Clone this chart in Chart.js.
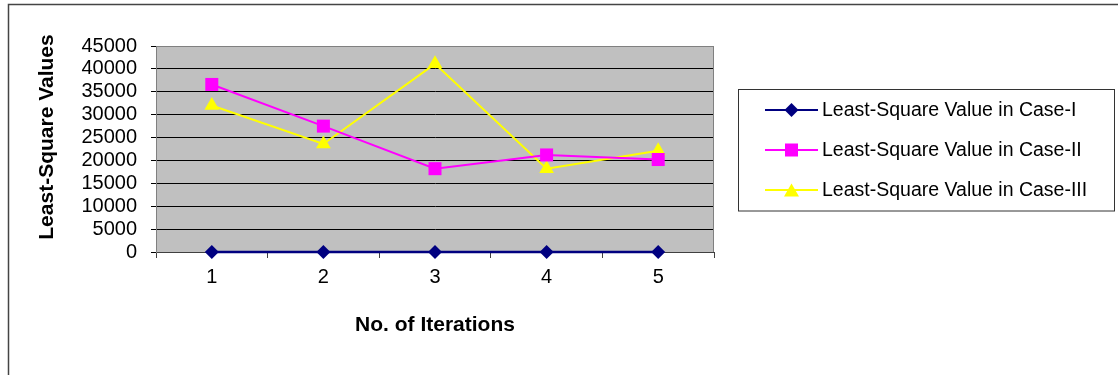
<!DOCTYPE html>
<html>
<head>
<meta charset="utf-8">
<script src="https://cdn.jsdelivr.net/npm/chart.js@4/dist/chart.umd.min.js"></script>
<style>
  html, body { margin: 0; padding: 0; background: #fff; }
  #wrap { width: 1118px; height: 375px; position: relative; }
</style>
</head>
<body>
<div id="wrap"><canvas id="c" width="1118" height="375"></canvas></div>
<script>
const categories = ['1', '2', '3', '4', '5'];
const seriesNames = ['Least-Square Value in Case-I', 'Least-Square Value in Case-II', 'Least-Square Value in Case-III'];
const caseI = [0, 0, 0, 0, 0];
const caseII = [36600, 27500, 18200, 21200, 20200];
const caseIII = [32000, 23600, 41100, 18200, 22100];
const yTickLabels = ['0', '5000', '10000', '15000', '20000', '25000', '30000', '35000', '40000', '45000'];
const xTitle = 'No. of Iterations';
const yTitle = 'Least-Square Values';

const FONT = '"Liberation Sans", Arial, sans-serif';

function drawMarker(ctx, style, x, y, color) {
  ctx.save();
  ctx.fillStyle = color;
  ctx.beginPath();
  if (style === 'rectRot') {
    const r = 7;
    ctx.moveTo(x - r, y); ctx.lineTo(x, y - r); ctx.lineTo(x + r, y); ctx.lineTo(x, y + r);
  } else if (style === 'rect') {
    const s = 6.5;
    ctx.rect(x - s, y - s, 2 * s, 2 * s);
  } else {
    const h = 6.5;
    ctx.moveTo(x, y - h); ctx.lineTo(x + 7.5, y + h); ctx.lineTo(x - 7.5, y + h);
  }
  ctx.closePath();
  ctx.fill();
  ctx.restore();
}

const decorPlugin = {
  id: 'decor',
  beforeDraw(chart) {
    const ctx = chart.ctx;
    const a = chart.chartArea;
    ctx.save();
    ctx.fillStyle = '#ffffff';
    ctx.fillRect(0, 0, chart.width, chart.height);
    ctx.strokeStyle = '#444444';
    ctx.lineWidth = 1.5;
    ctx.beginPath();
    ctx.moveTo(8.5, 375);
    ctx.lineTo(8.5, 4.5);
    ctx.lineTo(1118, 4.5);
    ctx.stroke();
    ctx.fillStyle = '#C0C0C0';
    ctx.fillRect(a.left, a.top, a.right - a.left, a.bottom - a.top);
    ctx.restore();
  },
  beforeDatasetsDraw(chart) {
    const ctx = chart.ctx;
    const a = chart.chartArea;
    ctx.save();
    ctx.strokeStyle = '#808080';
    ctx.lineWidth = 1;
    ctx.beginPath();
    ctx.moveTo(a.left, a.top + 0.5);
    ctx.lineTo(a.right - 0.5, a.top + 0.5);
    ctx.lineTo(a.right - 0.5, a.bottom);
    ctx.stroke();
    ctx.restore();
  },
  afterDraw(chart) {
    const ctx = chart.ctx;
    ctx.save();
    ctx.translate(47, 137);
    ctx.rotate(-Math.PI / 2);
    ctx.font = 'bold 21px ' + FONT;
    ctx.fillStyle = '#000';
    ctx.textAlign = 'center';
    ctx.textBaseline = 'middle';
    ctx.fillText(yTitle, 0, 0);
    ctx.restore();

    ctx.save();
    ctx.strokeStyle = '#333333';
    ctx.lineWidth = 1;
    ctx.strokeRect(738.5, 89.5, 376, 121.5);
    const rowsY = [110, 150, 190];
    chart.data.datasets.forEach((ds, i) => {
      const y = rowsY[i];
      ctx.strokeStyle = ds.borderColor;
      ctx.lineWidth = 2;
      ctx.beginPath();
      ctx.moveTo(765, y);
      ctx.lineTo(818, y);
      ctx.stroke();
      drawMarker(ctx, ds.pointStyle, 791.5, y, ds.pointBackgroundColor);
      ctx.fillStyle = '#000';
      ctx.font = '19.5px ' + FONT;
      ctx.textAlign = 'left';
      ctx.textBaseline = 'middle';
      ctx.fillText(ds.label, 822, y + 1);
    });
    ctx.restore();
  }
};

new Chart(document.getElementById('c'), {
  type: 'line',
  data: {
    labels: categories,
    datasets: [
      { label: seriesNames[0], data: caseI, borderColor: '#000080', backgroundColor: '#000080',
        pointBackgroundColor: '#000080', pointBorderColor: '#000080', pointStyle: 'rectRot',
        pointRadius: 7, pointBorderWidth: 0, borderWidth: 2.5, tension: 0, clip: false },
      { label: seriesNames[1], data: caseII, borderColor: '#FF00FF', backgroundColor: '#FF00FF',
        pointBackgroundColor: '#FF00FF', pointBorderColor: '#FF00FF', pointStyle: 'rect',
        pointRadius: 9.2, pointBorderWidth: 0, borderWidth: 2, tension: 0, clip: false },
      { label: seriesNames[2], data: caseIII, borderColor: '#FFFF00', backgroundColor: '#FFFF00',
        pointBackgroundColor: '#FFFF00', pointBorderColor: '#FFFF00', pointStyle: 'triangle',
        pointRadius: 8.5, pointBorderWidth: 0, borderWidth: 2, tension: 0, clip: false }
    ]
  },
  options: {
    responsive: false,
    animation: false,
    events: [],
    layout: { padding: { left: 0, top: 46, right: 404, bottom: 0 } },
    plugins: { legend: { display: false }, tooltip: { enabled: false }, title: { display: false } },
    scales: {
      x: {
        offset: true,
        afterFit(scale) { scale.height = 123; },
        grid: { display: true, drawOnChartArea: false, drawTicks: true, tickLength: 6, offset: true, color: '#404040', lineWidth: 1 },
        border: { display: true, color: '#404040', width: 1 },
        ticks: { color: '#000', font: { family: FONT, size: 20 }, padding: 7, maxRotation: 0 },
        title: { display: true, text: xTitle, color: '#000', font: { family: FONT, size: 21, weight: 'bold' }, padding: { top: 0, bottom: 37 } }
      },
      y: {
        min: 0, max: 45000,
        afterFit(scale) { scale.width = 156; },
        grid: {
          color: (c) => (c.tick && c.tick.value === 45000 ? '#808080' : '#000000'),
          lineWidth: 1, drawTicks: true, tickLength: 5, tickColor: '#000'
        },
        border: { display: true, color: '#808080', width: 1 },
        ticks: {
          stepSize: 5000, autoSkip: false, color: '#000', font: { family: FONT, size: 20 }, padding: 14,
          callback: (v, i) => yTickLabels[i]
        }
      }
    }
  },
  plugins: [decorPlugin]
});
</script>
</body>
</html>
